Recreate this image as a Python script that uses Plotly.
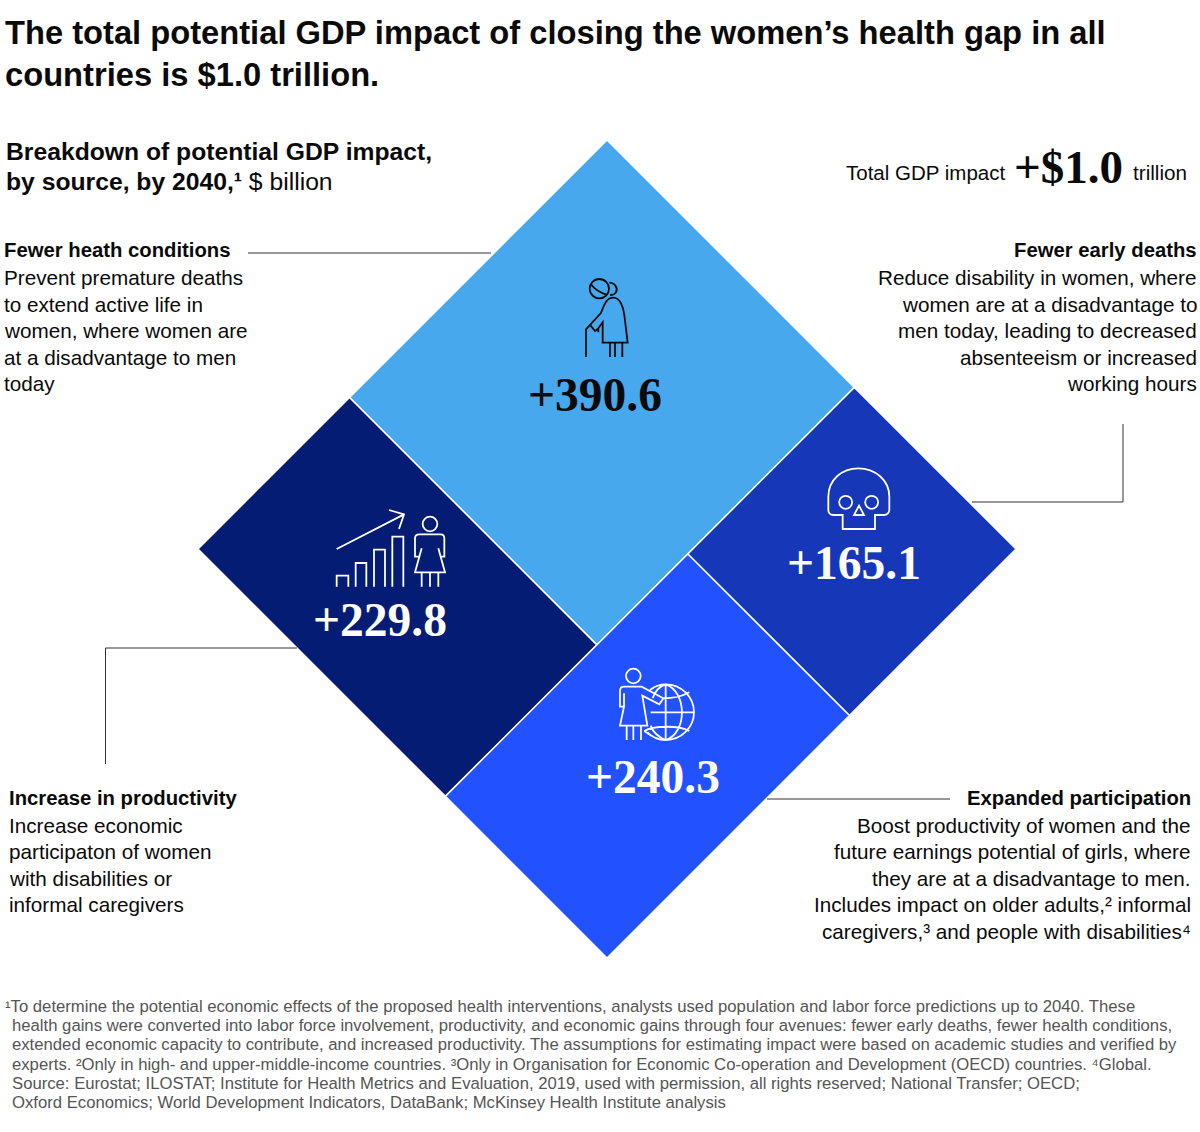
import re
import plotly.graph_objects as go

# ---- data ----
categories = ["Fewer health conditions", "Increase in productivity", "Fewer early deaths", "Expanded participation"]
values = [390.6, 229.8, 165.1, 240.3]
colors = ["#48A8EE", "#051C75", "#1537B8", "#2251FF"]
value_text_colors = ["#0A0A0A", "#FFFFFF", "#FFFFFF", "#FFFFFF"]
value_centers = [(595, 395), (380, 620), (854, 563), (653, 777)]

title_lines = ["The total potential GDP impact of closing the women’s health gap in all",
               "countries is $1.0 trillion."]
block_top = ["Fewer heath conditions", "Prevent premature deaths", "to extend active life in",
             "women, where women are", "at a disadvantage to men", "today"]
block_right = ["Fewer early deaths", "Reduce disability in women, where", "women are at a disadvantage to",
               "men today, leading to decreased", "absenteeism or increased", "working hours"]
block_left = ["Increase in productivity", "Increase economic", "participaton of women",
              "with disabilities or", "informal caregivers"]
block_bottom = ["Expanded participation", "Boost productivity of women and the",
                "future earnings potential of girls, where", "they are at a disadvantage to men.",
                "Includes impact on older adults,² informal", "caregivers,³ and people with disabilities⁴"]
notes = ["¹To determine the potential economic effects of the proposed health interventions, analysts used population and labor force predictions up to 2040. These",
         "health gains were converted into labor force involvement, productivity, and economic gains through four avenues: fewer early deaths, fewer health conditions,",
         "extended economic capacity to contribute, and increased productivity. The assumptions for estimating impact were based on academic studies and verified by",
         "experts. ²Only in high- and upper-middle-income countries. ³Only in Organisation for Economic Co-operation and Development (OECD) countries. ⁴Global.",
         "Source: Eurostat; ILOSTAT; Institute for Health Metrics and Evaluation, 2019, used with permission, all rights reserved; National Transfer; OECD;",
         "Oxford Economics; World Development Indicators, DataBank; McKinsey Health Institute analysis"]

SANS = "Liberation Sans"
SERIF = "Liberation Serif"
INK = "#0A0A0A"

# ---- diamond treemap layout, computed from the values ----
TOP_X, TOP_Y, SIDE = 607, 140, 409
total = sum(values)
col = (values[0] + values[1]) / total
split_l = values[0] / (values[0] + values[1])
split_r = values[2] / (values[2] + values[3])
cells = [(0, col, 0, split_l), (0, col, split_l, 1), (col, 1, 0, split_r), (col, 1, split_r, 1)]

def to_xy(u, v):
    return TOP_X + (u - v) * SIDE, TOP_Y + (u + v) * SIDE

fig = go.Figure()
for name, val, color, (u0, u1, v0, v1) in zip(categories, values, colors, cells):
    pts = [to_xy(u0, v0), to_xy(u1, v0), to_xy(u1, v1), to_xy(u0, v1), to_xy(u0, v0)]
    fig.add_trace(go.Scatter(x=[p[0] for p in pts], y=[p[1] for p in pts], mode="lines", fill="toself",
                             fillcolor=color, line=dict(color="#FFFFFF", width=1.5), name=name,
                             text=f"{name}: +{val}", hoverinfo="text", showlegend=False))

ann = []
def text(x, y, s, size, anchor="left", color=INK, font=SANS, bold=False):
    f = dict(family=font, size=size, color=color)
    ann.append(dict(x=x, y=y, xref="x", yref="y", text=f"<b>{s}</b>" if bold else s, showarrow=False,
                    xanchor=anchor, yanchor="middle", align=anchor, font=f, borderpad=0, borderwidth=0))

for y, s in zip([32.5, 74], title_lines):
    text(5, y, s, 32.7, bold=True)
text(6, 151.5, "Breakdown of potential GDP impact,", 24.7, bold=True)
text(6, 181.5, "<b>by source, by 2040,¹</b> $ billion", 24.7)
text(1005, 172.5, "Total GDP impact", 20.5, "right")
text(1068, 166.5, "+$1.0", 47, "center", font=SERIF, bold=True)
text(1187, 172.5, "trillion", 20.7, "right")

def block(x, ys, lines, anchor):
    for i, (y, s) in enumerate(zip(ys, lines)):
        text(x, y, s, 20.3 if i == 0 else 20.7, anchor, bold=(i == 0))
ys6 = [250, 277, 304, 330.5, 357, 383.5]
block(4, ys6, block_top, "left")
block(1197, ys6, block_right, "right")
ysb = [798, 825, 851, 878, 904.5, 931]
block(9, ysb, block_left, "left")
block(1191, ysb, block_bottom, "right")

for val, c, (cx, cy) in zip(values, value_text_colors, value_centers):
    text(cx, cy, f"+{val}", 47.5, "center", color=c, font=SERIF, bold=True)

for i, s in enumerate(notes):
    text(5 if i == 0 else 12, 1006.5 + i * 19.2, s, 16.7, color="#555555")

# ---- leader lines ----
shapes = []
def path(d, color, width=1.0):
    shapes.append(dict(type="path", path=d, xref="x", yref="y", line=dict(color=color, width=width),
                       fillcolor="rgba(0,0,0,0)", layer="above"))
for d in ["M248 253 L491 253", "M972 502 L1123 502 L1123 424", "M105.5 764 L105.5 648 L297 648", "M767 799 L950 799"]:
    path(d, "#333333", 1)

# ---- icons (drawn in zoomed crop coordinates, scaled by 1/3) ----
def icon(ox, oy, d):
    parts = re.findall(r"[A-Za-z]|-?[\d.]+", d)
    out, is_x = [], True
    for p in parts:
        if p.isalpha():
            out.append(p); is_x = True
        else:
            out.append(f"{(ox if is_x else oy) + float(p) / 3:.2f}")
            is_x = not is_x
    return " ".join(out)

def circ(cx, cy, r):
    k = 0.5523 * r
    return (f"M {cx-r} {cy} C {cx-r} {cy-k} {cx-k} {cy-r} {cx} {cy-r} C {cx+k} {cy-r} {cx+r} {cy-k} {cx+r} {cy} "
            f"C {cx+r} {cy+k} {cx+k} {cy+r} {cx} {cy+r} C {cx-k} {cy+r} {cx-r} {cy+k} {cx-r} {cy} Z ")

elder = (circ(118, 86, 29) +
         "M 92 72 C 105 90 125 100 143 105 "
         "M 148 68 C 165 68 175 85 168 97 C 165 102 158 105 150 105 "
         "M 78 291 L 78 208 L 122 160 C 130 145 135 113 160 113 C 180 113 190 140 193 165 L 203 248 L 128 248 L 128 187 "
         "L 115 205 L 115 217 M 115 205 L 105 213 L 92 197 "
         "M 150 248 L 150 291 M 165 248 L 165 291 M 187 248 L 187 291")
chart = ("M 50 162 L 252 58 M 207 45 L 252 58 L 237 102 "
         "M 50 275 L 50 242 L 85 242 L 85 275 M 107 275 L 107 204 L 139 204 L 139 275 "
         "M 162 275 L 162 164 L 195 164 L 195 275 M 217 275 L 217 125 L 250 125 L 250 275 " +
         circ(330, 87, 22) +
         "M 297 185 L 285 185 L 285 130 C 285 122 290 118 298 118 L 362 118 C 370 118 373 122 373 130 L 373 185 L 364 185 "
         "M 305 160 L 285 232 L 375 232 L 355 160 "
         "M 305 232 L 305 275 M 330 232 L 330 275 M 355 232 L 355 275")
skull = ("M 128 222 L 128 180 L 100 180 C 90 180 85 172 85 165 L 85 125 C 85 75 125 40 175 40 "
         "C 225 40 268 75 268 125 L 268 165 C 268 172 262 180 252 180 L 225 180 L 225 222 Z " +
         circ(137, 142, 19.5) + circ(215, 142, 19.5) + "M 177 152 L 162 180 L 192 180 Z")
globe = (circ(100, 63, 22) +
         "M 72 155 L 60 155 L 60 108 C 60 100 65 95 72 95 L 125 95 L 190 130 L 178 148 L 127 122 L 142 212 L 60 212 L 72 155 L 72 115 "
         "M 80 212 L 80 255 M 100 212 L 100 255 M 123 212 L 123 255 "
         "M 150 105 C 165 93 180 88 197 88 C 243 88 282 125 282 172 C 282 218 243 255 197 255 C 175 255 155 245 142 232 "
         "M 197 88 L 197 255 M 152 172 L 282 172 "
         "M 197 88 C 262 110 262 235 197 255 C 172 245 158 228 152 212 M 197 88 C 175 95 165 108 158 130 "
         "M 190 130 C 215 130 245 125 268 112 M 133 228 C 160 212 235 210 268 228 M 133 228 C 150 240 170 255 197 255")
for ox, oy, d, c in [(560, 260, elder, "#0A0A0A"), (320, 495, chart, "#FFFFFF"),
                     (800, 455, skull, "#FFFFFF"), (600, 655, globe, "#FFFFFF")]:
    path(icon(ox, oy, d), c, 1.8)

fig.update_layout(width=1200, height=1132, margin=dict(l=0, r=0, t=0, b=0), paper_bgcolor="#FFFFFF",
                  plot_bgcolor="#FFFFFF", showlegend=False, annotations=ann, shapes=shapes,
                  xaxis=dict(range=[0, 1200], visible=False, fixedrange=True),
                  yaxis=dict(range=[1132, 0], visible=False, fixedrange=True))
fig.write_html("out.html", config=dict(displayModeBar=False),
               post_script="document.body.style.margin='0';document.body.style.overflow='hidden';")
